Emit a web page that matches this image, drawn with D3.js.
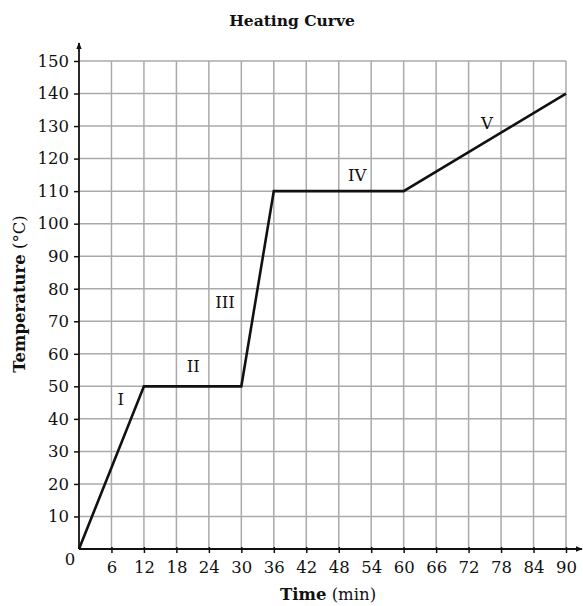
<!DOCTYPE html>
<html><head><meta charset="utf-8">
<script src="https://cdn.jsdelivr.net/npm/d3@7"></script>
<style>body{margin:0;background:#fff}svg{display:block}text{font-family:"DejaVu Serif",serif;fill:#111}</style>
</head><body><svg id="c" width="583" height="606"></svg>
<script>
const times = [0, 12, 30, 36, 60, 90];
const temps = [0, 50, 50, 110, 110, 140];
const xTicks = [6,12,18,24,30,36,42,48,54,60,66,72,78,84,90];
const yTicks = [10,20,30,40,50,60,70,80,90,100,110,120,130,140,150];
const phaseLabels = ["I","II","III","IV","V"];
const phaseX = [7.7, 21.1, 27, 51.4, 75.4];
const phaseY = [45.8, 56.1, 75.7, 114.7, 130.9];

const svg = d3.select("#c");
const x = d3.scaleLinear().domain([0,90]).range([79,566]);
const y = d3.scaleLinear().domain([0,150]).range([549,61]);

// grid
const g = svg.append("g").attr("stroke","#aaa").attr("stroke-width",1.5);
g.selectAll(".v").data(xTicks).enter().append("line")
  .attr("x1",d=>x(d)).attr("x2",d=>x(d)).attr("y1",y(0)).attr("y2",y(150));
g.selectAll(".h").data(yTicks).enter().append("line")
  .attr("y1",d=>y(d)).attr("y2",d=>y(d)).attr("x1",x(0)).attr("x2",x(90));

// axes
const defs = svg.append("defs");
defs.append("marker").attr("id","arr").attr("viewBox","0 0 10 10").attr("refX",9).attr("refY",5)
  .attr("markerWidth",7).attr("markerHeight",7).attr("markerUnits","userSpaceOnUse").attr("orient","auto")
  .append("path").attr("d","M0,1 L10,5 L0,9 Z").attr("fill","#111");

const xAxis = d3.axisBottom(x).tickValues(xTicks).tickSize(4).tickSizeOuter(0).tickPadding(8);
const xa = svg.append("g").attr("transform",`translate(0,${y(0)})`).call(xAxis);
xa.select(".domain").remove();
xa.selectAll(".tick line").attr("y1",-2).attr("stroke","#111").attr("stroke-width",1.5);
xa.selectAll(".tick text").attr("font-size",16.5).attr("font-family","DejaVu Serif").attr("fill","#111");

const yAxis = d3.axisLeft(y).tickValues(yTicks).tickSize(5).tickSizeOuter(0).tickPadding(5);
const ya = svg.append("g").attr("transform",`translate(${x(0)},0)`).call(yAxis);
ya.select(".domain").remove();
ya.selectAll(".tick line").attr("stroke","#111").attr("stroke-width",1.5);
ya.selectAll(".tick text").attr("font-size",16.5).attr("font-family","DejaVu Serif").attr("fill","#111");

svg.append("line").attr("x1",x(0)).attr("x2",x(0)).attr("y1",y(0)).attr("y2",43)
  .attr("stroke","#111").attr("stroke-width",1.8).attr("marker-end","url(#arr)");
svg.append("line").attr("x1",x(0)).attr("x2",582).attr("y1",y(0)).attr("y2",y(0))
  .attr("stroke","#111").attr("stroke-width",1.8).attr("marker-end","url(#arr)");

svg.append("text").attr("x",70).attr("y",565).attr("text-anchor","middle").attr("font-size",16.5).text("0");

// curve
const pts = times.map((t,i)=>[t,temps[i]]);
svg.append("path").datum(pts)
  .attr("d", d3.line().x(d=>x(d[0])).y(d=>y(d[1])))
  .attr("fill","none").attr("stroke","#111").attr("stroke-width",2.6).attr("stroke-linejoin","miter");

// phase labels
svg.selectAll(".pl").data(phaseLabels).enter().append("text")
  .attr("x",(d,i)=>x(phaseX[i])).attr("y",(d,i)=>y(phaseY[i]))
  .attr("text-anchor","middle").attr("dominant-baseline","central").attr("font-size",16.5).text(d=>d);

// title
svg.append("text").attr("x",292).attr("y",26).attr("text-anchor","middle")
  .attr("font-size",15.5).attr("font-weight","bold").text("Heating Curve");

// x title
const xt = svg.append("text").attr("x",328).attr("y",600).attr("text-anchor","middle").attr("font-size",16.5);
xt.append("tspan").attr("font-weight","bold").text("Time");
xt.append("tspan").text(" (min)");

// y title
const yt = svg.append("text").attr("transform","translate(25,294) rotate(-90)").attr("text-anchor","middle").attr("font-size",16.5);
yt.append("tspan").attr("font-weight","bold").text("Temperature");
yt.append("tspan").text(" (°C)");
</script></body></html>
